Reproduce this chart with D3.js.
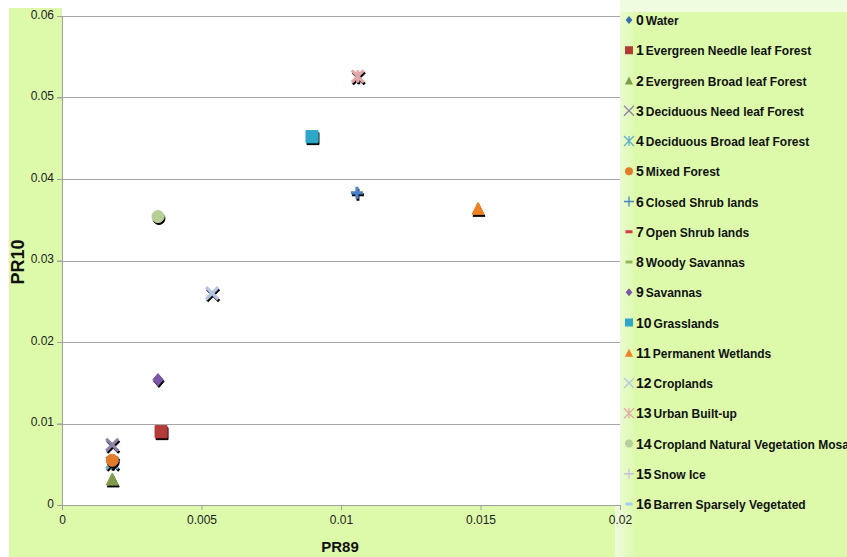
<!DOCTYPE html>
<html><head><meta charset="utf-8">
<script src="https://cdn.jsdelivr.net/npm/d3@7"></script>
<style>body{margin:0;background:#fff}svg{display:block}text{font-family:"Liberation Sans",Arial,sans-serif}</style>
</head><body><svg id="c" width="847" height="557"></svg>
<script>
const classNums = [0,1,2,3,4,5,6,7,8,9,10,11,12,13,14,15,16];
const classNames = ["Water","Evergreen Needle leaf Forest","Evergreen Broad leaf Forest","Deciduous Need leaf Forest","Deciduous Broad leaf Forest","Mixed Forest","Closed Shrub lands","Open Shrub lands","Woody Savannas","Savannas","Grasslands","Permanent Wetlands","Croplands","Urban Built-up","Cropland Natural Vegetation Mosaic","Snow Ice","Barren Sparsely Vegetated"];
// null = no visible point in the chart
const pr89 = [0.0018,0.00355,0.0018,0.0018,0.0018,0.0018,0.01057,0.01244,0.0018,0.00344,0.00896,0.01491,0.00538,0.0106,0.00344,null,null];
const pr10 = [0.0052,0.0090,0.0032,0.0074,0.0052,0.0055,0.0383,0.0493,0.0030,0.0154,0.0452,0.0364,0.0260,0.0526,0.0354,null,null];
const markers = ["diamond","square","triangle","x","asterisk","circle","plus","dash","dash","diamond","square","triangle","x","asterisk","circle","plus","dash"];
const colors = ["#3a6bb0","#b33a37","#7f9c4a","#8f82a8","#5fb0c8","#e07b2a","#4a80c8","#d04040","#9ab65a","#7a56a8","#2ea6c8","#f08020","#b4c4e2","#e0a8a8","#b8d098","#c8c0e0","#a8d0e8"];
const xTicks = [0,0.005,0.01,0.015,0.02];
const yTicks = [0,0.01,0.02,0.03,0.04,0.05,0.06];
const xTickLabels = ["0","0.005","0.01","0.015","0.02"];
const yTickLabels = ["0","0.01","0.02","0.03","0.04","0.05","0.06"];
const xTitle = "PR89", yTitle = "PR10";

const svg = d3.select("#c");
const L=62,R=620,T=16,B=505;
const x = d3.scaleLinear().domain([0,0.02]).range([L,R]);
const y = d3.scaleLinear().domain([0,0.06]).range([B,T]);

const defs = svg.append("defs");
const f = defs.append("filter").attr("id","sh").attr("x","-50%").attr("y","-50%").attr("width","200%").attr("height","200%");
f.append("feDropShadow").attr("dx",1).attr("dy",2).attr("stdDeviation",0.7).attr("flood-color","#000").attr("flood-opacity",1);
const g1 = defs.append("linearGradient").attr("id","lg").attr("x1","0").attr("x2","1");
g1.append("stop").attr("offset","0").attr("stop-color","#eefbe0");
g1.append("stop").attr("offset","1").attr("stop-color","#dcfaa9");

// backgrounds
svg.append("rect").attr("x",9).attr("y",8).attr("width",838).attr("height",549).attr("fill","#dcfaa9");
svg.append("rect").attr("x",620).attr("y",0).attr("width",227).attr("height",12).attr("fill","#effce0");
svg.append("rect").attr("x",615).attr("y",12).attr("width",21).attr("height",545).attr("fill","url(#lg)");
svg.append("rect").attr("x",L).attr("y",8).attr("width",R-L).attr("height",B-8).attr("fill","#fff");

// gridlines
svg.append("g").selectAll("line").data(yTicks).join("line")
  .attr("x1",L-5).attr("x2",R).attr("y1",d=>Math.round(y(d))+0.5).attr("y2",d=>Math.round(y(d))+0.5)
  .attr("stroke","#a6a6a6").attr("stroke-width",1);
// axes
const xa = svg.append("g").attr("transform",`translate(0,${B})`)
  .call(d3.axisBottom(x).tickValues(xTicks).tickFormat((d,i)=>xTickLabels[i]).tickSize(5).tickPadding(5));
const ya = svg.append("g").attr("transform",`translate(${L},0)`)
  .call(d3.axisLeft(y).tickValues(yTicks).tickFormat((d,i)=>yTickLabels[i]).tickSize(5).tickPadding(3));
[xa,ya].forEach(a=>{a.selectAll("path,line").attr("stroke","#a0a0a0");a.selectAll("text").attr("font-size",12).attr("fill","#222").attr("font-family","Liberation Sans, Arial, sans-serif");});
ya.select(".domain").attr("d",`M0.5,${T}V${B+5}`);
ya.selectAll(".tick text").attr("dy","0.2em");

svg.append("text").attr("transform",`translate(24,262) rotate(-90)`).attr("text-anchor","middle")
  .attr("font-size",18).attr("font-weight","bold").attr("fill","#111").text(yTitle);
svg.append("text").attr("x",340).attr("y",552).attr("text-anchor","middle")
  .attr("font-size",15).attr("font-weight","bold").attr("fill","#111").text(xTitle);

function markerPath(type,s){
  const h=s/2;
  switch(type){
    case "diamond": return `M0,${-h}L${h*0.85},0L0,${h}L${-h*0.85},0Z`;
    case "square": return `M${-h},${-h}H${h}V${h}H${-h}Z`;
    case "triangle": return `M0,${-h}L${h},${h}L${-h},${h}Z`;
    case "circle": return d3.symbol(d3.symbolCircle, Math.PI*h*h)();
    case "x": return `M${-h},${-h}L${h},${h}M${h},${-h}L${-h},${h}`;
    case "asterisk": return `M${-h},${-h}L${h},${h}M${h},${-h}L${-h},${h}M0,${-h}V${h}`;
    case "plus": return `M${-h},0H${h}M0,${-h}V${h}`;
    case "dash": return `M${-h},0H${h}`;
  }
}
const filled = t => ["diamond","square","triangle","circle"].includes(t);

const pts = classNums.map(i=>({i,x:pr89[i],y:pr10[i],m:markers[i],c:colors[i]})).filter(p=>p.x!=null&&p.y!=null);
const pg = svg.append("g");
pts.forEach(p=>{
  const s = p.m==="dash"?10:12;
  const el = pg.append("path").attr("transform",`translate(${x(p.x)},${y(p.y)})`)
    .attr("d",markerPath(p.m,s)).attr("filter","url(#sh)");
  if(filled(p.m)) el.attr("fill",p.c).attr("stroke",p.c).attr("stroke-width",1).attr("stroke-linejoin","round");
  else el.attr("fill","none").attr("stroke",p.c).attr("stroke-width",p.m==="dash"?4:3);
});

// legend
const lg = svg.append("g");
classNums.forEach((i,k)=>{
  const cy = 20 + k*30.25;
  const s = ["x","asterisk","plus","dash"].includes(markers[i]) ? 10 : 8;
  const el = lg.append("path").attr("transform",`translate(629,${cy})`).attr("d",markerPath(markers[i], markers[i]==="dash"?7:s));
  if(filled(markers[i])) el.attr("fill",colors[i]);
  else el.attr("fill","none").attr("stroke",colors[i]).attr("stroke-width",markers[i]==="dash"?3:1.3);
  const t = lg.append("text").attr("x",636).attr("y",cy+5).attr("fill","#111").attr("font-weight","bold");
  t.append("tspan").attr("font-size",14).text(i);
  t.append("tspan").attr("font-size",12).attr("dx",2).text(classNames[i]);
});
</script></body></html>
